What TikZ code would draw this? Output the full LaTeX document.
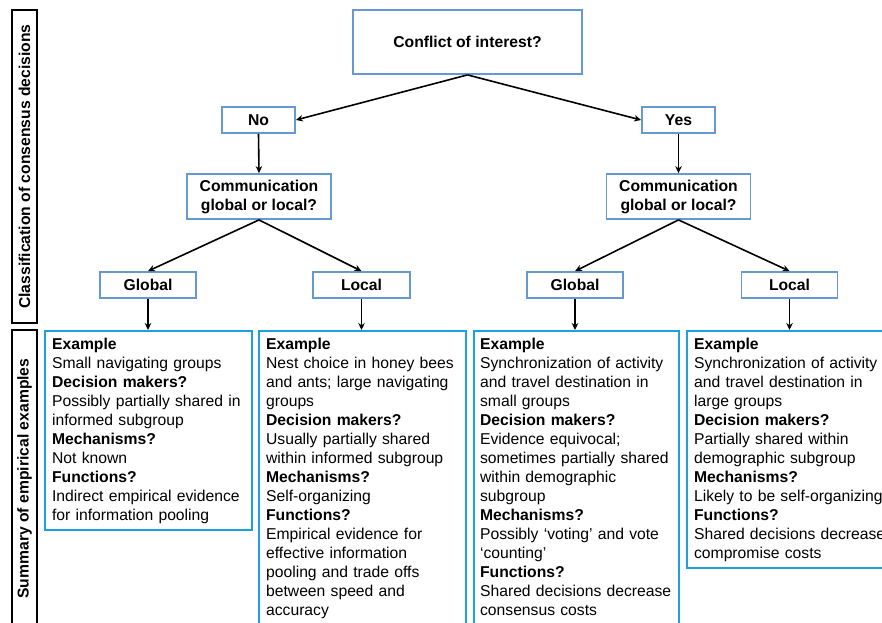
\documentclass[tikz,border=0pt]{standalone}
\usepackage{fontspec}
\setmainfont{Liberation Sans}
\usetikzlibrary{arrows.meta}
\definecolor{decblue}{RGB}{102,153,210}
\definecolor{exblue}{RGB}{27,161,226}
\begin{document}
\begin{tikzpicture}[x=1pt,y=-1pt,
  dec/.style={draw=decblue, line width=1.8pt, fill=white, align=center, inner sep=0pt,
    font=\fontsize{15.7}{19}\selectfont\bfseries},
  ex/.style={draw=exblue, line width=2.2pt, fill=white, anchor=north west, align=left,
    inner xsep=7pt, inner ysep=4pt, text width=193pt, font=\fontsize{15.7}{19}\selectfont},
  side/.style={draw=black, line width=1.8pt, rotate=90, inner sep=0pt, align=center,
    font=\fontsize{15.7}{19}\selectfont\bfseries},
  arr/.style={draw=black, line width=1.6pt, -{Stealth[length=7pt,width=6.5pt]}}
]
\clip (0,0) rectangle (882,622);
\fill[white] (0,0) rectangle (882,622);

% sidebar
\node[side, minimum width=313pt, minimum height=25pt] (cls) at (24.5,166.5) {Classification of consensus decisions};
\node[side, minimum width=297pt, minimum height=25pt] (sum) at (24.5,478.5) {Summary of empirical examples};

% decision tree
\node[dec, minimum width=229pt, minimum height=64pt] (coi) at (467.5,42) {Conflict of interest?};
\node[dec, minimum width=73pt, minimum height=26pt] (no) at (258.5,120) {No};
\node[dec, minimum width=73pt, minimum height=26pt] (yes) at (678.5,120) {Yes};
\node[dec, minimum width=144pt, minimum height=45pt] (cl) at (259,196.5) {Communication\\global or local?};
\node[dec, minimum width=144pt, minimum height=45pt] (cr) at (678.5,196.5) {Communication\\global or local?};
\node[dec, minimum width=96pt, minimum height=26pt] (gl) at (148,285) {Global};
\node[dec, minimum width=97pt, minimum height=26pt] (ll) at (361.5,285) {Local};
\node[dec, minimum width=96pt, minimum height=26pt] (gr) at (575,285) {Global};
\node[dec, minimum width=96pt, minimum height=26pt] (lr) at (789.5,285) {Local};

% example boxes
\node[ex] (e1) at (44,330) {\rule{0pt}{14pt}\textbf{Example}\\
Small navigating groups\\
\textbf{Decision makers?}\\
Possibly partially shared in\\
informed subgroup\\
\textbf{Mechanisms?}\\
Not known\\
\textbf{Functions?}\\
Indirect empirical evidence\\
for information pooling\rule[-6pt]{0pt}{6pt}};

\node[ex] (e2) at (258,330) {\rule{0pt}{14pt}\textbf{Example}\\
Nest choice in honey bees\\
and ants; large navigating\\
groups\\
\textbf{Decision makers?}\\
Usually partially shared\\
within informed subgroup\\
\textbf{Mechanisms?}\\
Self-organizing\\
\textbf{Functions?}\\
Empirical evidence for\\
effective information\\
pooling and trade offs\\
between speed and\\
accuracy\rule[-20pt]{0pt}{20pt}};

\node[ex, inner xsep=6pt] (e3) at (473,330) {\rule{0pt}{14pt}\textbf{Example}\\
Synchronization of activity\\
and travel destination in\\
small groups\\
\textbf{Decision makers?}\\
Evidence equivocal;\\
sometimes partially shared\\
within demographic\\
subgroup\\
\textbf{Mechanisms?}\\
Possibly ‘voting’ and vote\\
‘counting’\\
\textbf{Functions?}\\
\mbox{Shared decisions decrease}\\
consensus costs\rule[-20pt]{0pt}{20pt}};

\node[ex] (e4) at (686,330) {\rule{0pt}{14pt}\textbf{Example}\\
Synchronization of activity\\
and travel destination in\\
large groups\\
\textbf{Decision makers?}\\
Partially shared within\\
demographic subgroup\\
\textbf{Mechanisms?}\\
Likely to be self-organizing\\
\textbf{Functions?}\\
\mbox{Shared decisions decrease}\\
compromise costs\rule[-6pt]{0pt}{6pt}};

% connectors
\draw[arr] (coi.south) -- (no.east);
\draw[arr] (coi.south) -- (yes.west);
\draw[arr] (no.south) -- (cl.north);
\draw[arr] (yes.south) -- (cr.north);
\draw[arr] (cl.south) -- (gl.north);
\draw[arr] (cl.south) -- (ll.north);
\draw[arr] (cr.south) -- (gr.north);
\draw[arr] (cr.south) -- (lr.north);
\draw[arr] (gl.south) -- (gl.south |- e1.north);
\draw[arr] (ll.south) -- (ll.south |- e2.north);
\draw[arr] (gr.south) -- (gr.south |- e3.north);
\draw[arr] (lr.south) -- (lr.south |- e4.north);
\end{tikzpicture}
\end{document}
